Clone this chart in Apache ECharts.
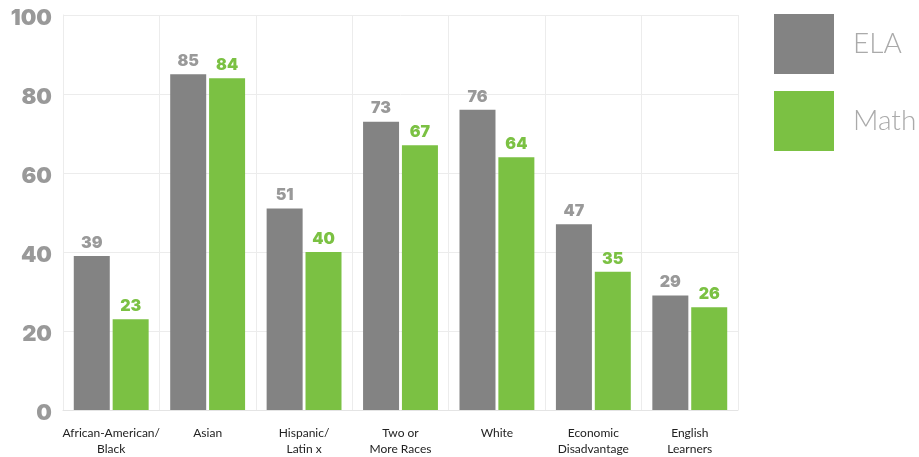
<!DOCTYPE html>
<html><head><meta charset="utf-8">
<script src="https://cdn.jsdelivr.net/npm/echarts@6/dist/echarts.min.js"></script>
<style>html,body{margin:0;padding:0;background:#fff}#c{width:919px;height:457px}</style>
</head><body><div id="c"></div>
<script>
const categories = ["African-American/\nBlack","Asian","Hispanic/\nLatin x","Two or\nMore Races","White","Economic\nDisadvantage","English\nLearners"];
const elaValues = [39,85,51,73,76,47,29];
const mathValues = [23,84,40,67,64,35,26];
const yTicks = [0,20,40,60,80,100];

const chart = echarts.init(document.getElementById('c'));
const numFont = {fontFamily:'Inter', fontWeight:900};
chart.setOption({
  animation:false,
  grid:{left:63,right:181,top:15,bottom:43},
  legend:{
    orient:'vertical', left:774, top:14, padding:0, itemWidth:60, itemHeight:60, itemGap:17,
    icon:'rect',
    textStyle:{fontFamily:'Lato', fontWeight:300, fontSize:28, color:'#aaaaaa', padding:[0,0,0,14]},
    data:['ELA','Math']
  },
  xAxis:{
    type:'category', data:categories,
    axisTick:{show:false},
    axisLine:{lineStyle:{color:'#e4e4e4'}},
    splitLine:{show:true, lineStyle:{color:'#ececec'}},
    axisLabel:{fontFamily:'Lato', fontSize:12, color:'#222', lineHeight:16, margin:15, interval:0}
  },
  yAxis:{
    type:'value', min:yTicks[0], max:yTicks[yTicks.length-1], interval:20,
    axisLine:{show:true, lineStyle:{color:'#ececec'}},
    splitLine:{lineStyle:{color:'#ececec'}},
    axisLabel:{margin:11, formatter:'{a|{value}}',
      rich:{a:Object.assign({fontSize:22, color:'#999999', padding:[7,0,0,0]}, numFont)}}
  },
  series:[
    {name:'ELA', type:'bar', data:elaValues, barWidth:36, barGap:'8%',
     itemStyle:{color:'#838383'},
     label:Object.assign({show:true, position:'top', distance:5, fontSize:16, color:'#999999'}, numFont)},
    {name:'Math', type:'bar', data:mathValues, barWidth:36,
     itemStyle:{color:'#7bc143'},
     label:Object.assign({show:true, position:'top', distance:5, fontSize:16, color:'#7bc143'}, numFont)}
  ]
});
</script></body></html>
